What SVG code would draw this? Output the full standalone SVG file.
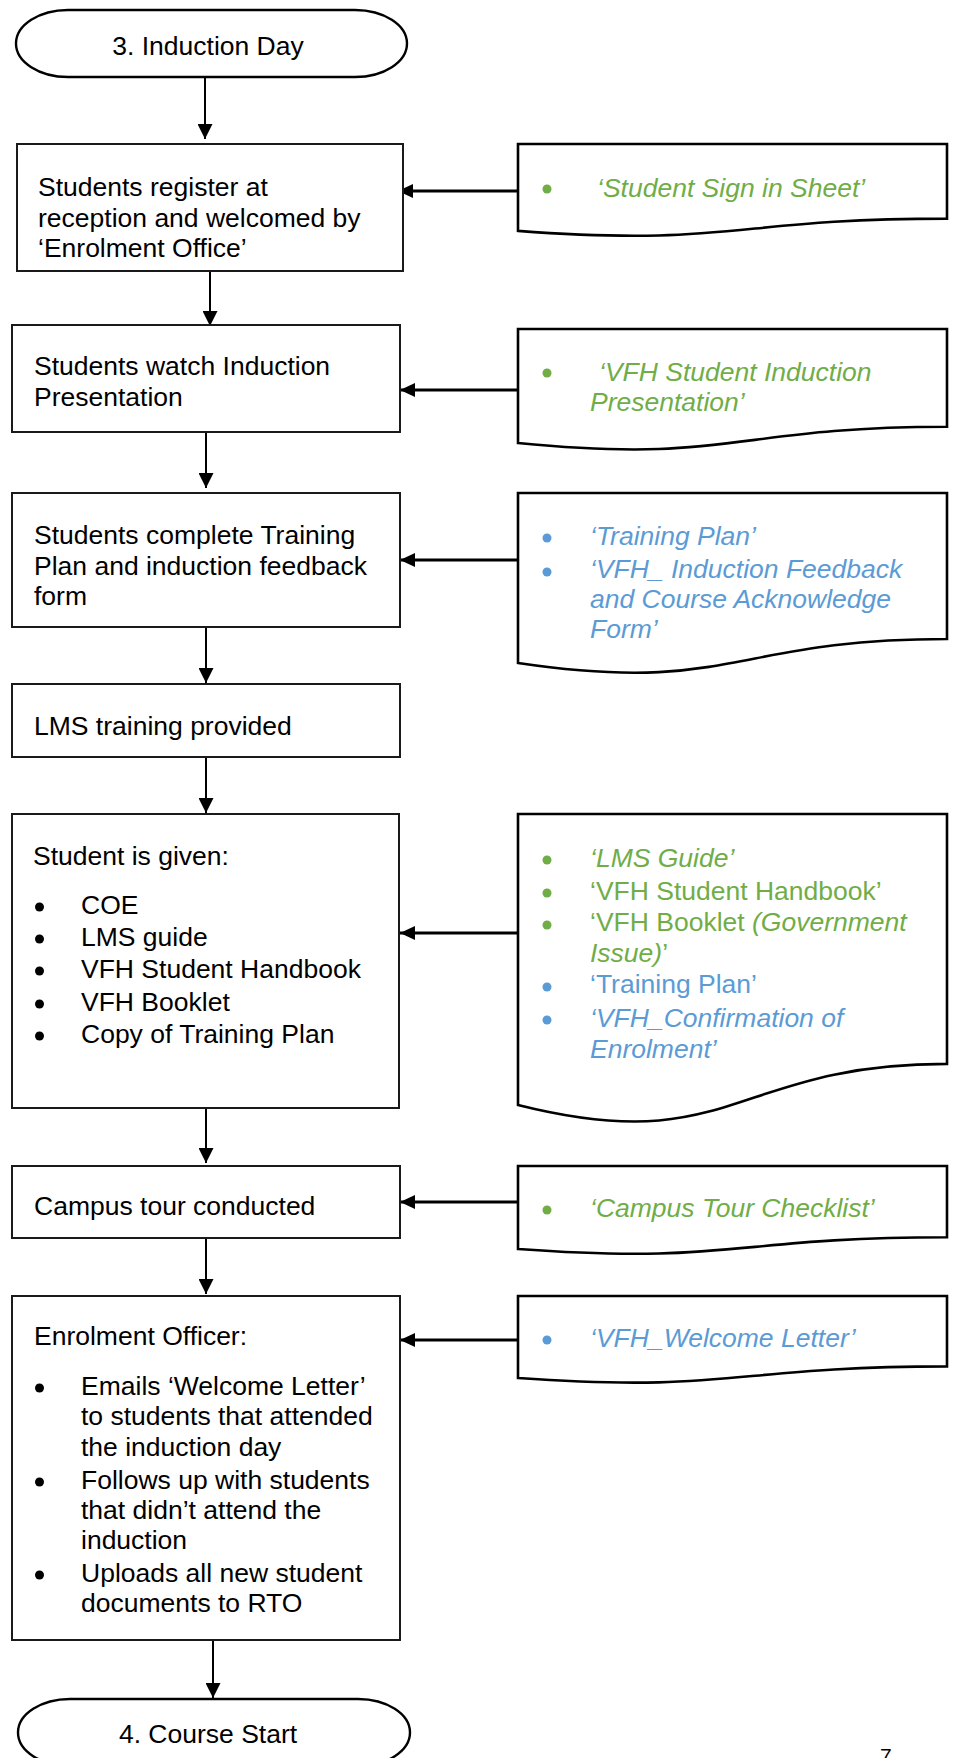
<svg xmlns="http://www.w3.org/2000/svg" width="954" height="1758" viewBox="0 0 954 1758">
<style>
text{font-family:"Liberation Sans",Arial,sans-serif;font-size:26.5px;fill:#000}
.g{fill:#70AD47}
.b{fill:#5B9BD5}
.i{font-style:italic}
.box{fill:#fff;stroke:#1a1a1a;stroke-width:2}
.doc{fill:#fff;stroke:#000;stroke-width:2.6}
.term{fill:#fff;stroke:#000;stroke-width:2.4}
.v{stroke:#000;stroke-width:2;fill:none}
.h{stroke:#000;stroke-width:3;fill:none}
.dot{fill:#000}
.dg{fill:#70AD47}
.db{fill:#5B9BD5}
</style>
<defs>
<marker id="av" viewBox="0 0 16 15" markerWidth="16" markerHeight="15" refX="15" refY="7.5" orient="auto" markerUnits="userSpaceOnUse">
<path d="M0,0 L15,7.5 L0,15 Z" fill="#000"/>
</marker>
<marker id="ah" viewBox="0 0 15 14" markerWidth="15" markerHeight="14" refX="15" refY="7" orient="auto" markerUnits="userSpaceOnUse">
<path d="M0,0 L15,7 L0,14 Z" fill="#000"/>
</marker>
</defs>

<g id="connectors">
<line class="v" x1="205" y1="77" x2="205" y2="139" marker-end="url(#av)"/>
<line class="v" x1="210" y1="271" x2="210" y2="326" marker-end="url(#av)"/>
<line class="v" x1="206" y1="432" x2="206" y2="488" marker-end="url(#av)"/>
<line class="v" x1="206" y1="627" x2="206" y2="683" marker-end="url(#av)"/>
<line class="v" x1="206" y1="757" x2="206" y2="813" marker-end="url(#av)"/>
<line class="v" x1="206" y1="1108" x2="206" y2="1163" marker-end="url(#av)"/>
<line class="v" x1="206" y1="1238" x2="206" y2="1294" marker-end="url(#av)"/>
<line class="v" x1="213" y1="1640" x2="213" y2="1698" marker-end="url(#av)"/>
<line class="h" x1="518" y1="191" x2="398" y2="191" marker-end="url(#ah)"/>
<line class="h" x1="518" y1="390" x2="400" y2="390" marker-end="url(#ah)"/>
<line class="h" x1="518" y1="560" x2="400" y2="560" marker-end="url(#ah)"/>
<line class="h" x1="518" y1="933" x2="400" y2="933" marker-end="url(#ah)"/>
<line class="h" x1="518" y1="1202" x2="400" y2="1202" marker-end="url(#ah)"/>
<line class="h" x1="518" y1="1340" x2="400" y2="1340" marker-end="url(#ah)"/>
</g>

<g id="start">
<rect class="term" x="16" y="10" width="391" height="67" rx="52" ry="33.5"/>
<text x="208" y="55" text-anchor="middle">3. Induction Day</text>
</g>

<g id="register">
<rect class="box" x="17" y="144" width="386" height="127"/>
<text x="38" y="196">Students register at</text>
<text x="38" y="226.5">reception and welcomed by</text>
<text x="38" y="257">‘Enrolment Office’</text>
</g>

<g id="signin-doc">
<path class="doc" d="M518,144 H947 V218.6 C732.5,218.6 732.5,247 518,230.9 Z"/>
<circle class="dg" cx="547" cy="189" r="4.5"/>
<text class="g i" x="597" y="197">‘Student Sign in Sheet’</text>
</g>

<g id="watch">
<rect class="box" x="12" y="325" width="388" height="107"/>
<text x="34" y="375">Students watch Induction</text>
<text x="34" y="406">Presentation</text>
</g>

<g id="presentation-doc">
<path class="doc" d="M518,329 H947 V426.8 C732.5,426.8 732.5,464.1 518,443 Z"/>
<circle class="dg" cx="547" cy="373" r="4.5"/>
<text class="g i" x="599" y="381">‘VFH Student Induction</text>
<text class="g i" x="590" y="410.5">Presentation’</text>
</g>

<g id="complete">
<rect class="box" x="12" y="493" width="388" height="134"/>
<text x="34" y="544">Students complete Training</text>
<text x="34" y="575">Plan and induction feedback</text>
<text x="34" y="605">form</text>
</g>

<g id="feedback-doc">
<path class="doc" d="M518,493 H947 V639 C732.5,639 732.5,694.6 518,663 Z"/>
<circle class="db" cx="547" cy="538" r="4.5"/>
<circle class="db" cx="547" cy="572" r="4.5"/>
<text class="b i" x="590" y="545">‘Training Plan’</text>
<text class="b i" x="590" y="578">‘VFH_ Induction Feedback</text>
<text class="b i" x="590" y="608">and Course Acknowledge</text>
<text class="b i" x="590" y="638">Form’</text>
</g>

<g id="lms">
<rect class="box" x="12" y="684" width="388" height="73"/>
<text x="34" y="735">LMS training provided</text>
</g>

<g id="given">
<rect class="box" x="12" y="814" width="387" height="294"/>
<text x="33" y="865">Student is given:</text>
<circle class="dot" cx="39.5" cy="907" r="4.5"/>
<circle class="dot" cx="39.5" cy="939" r="4.5"/>
<circle class="dot" cx="39.5" cy="971" r="4.5"/>
<circle class="dot" cx="39.5" cy="1004" r="4.5"/>
<circle class="dot" cx="39.5" cy="1036" r="4.5"/>
<text x="81" y="914">COE</text>
<text x="81" y="946">LMS guide</text>
<text x="81" y="978">VFH Student Handbook</text>
<text x="81" y="1011">VFH Booklet</text>
<text x="81" y="1043">Copy of Training Plan</text>
</g>

<g id="given-doc">
<path class="doc" d="M518,814 H947 V1063.9 C732.5,1063.9 732.5,1159 518,1105 Z"/>
<circle class="dg" cx="547" cy="860" r="4.5"/>
<circle class="dg" cx="547" cy="893" r="4.5"/>
<circle class="dg" cx="547" cy="925" r="4.5"/>
<circle class="db" cx="547" cy="987" r="4.5"/>
<circle class="db" cx="547" cy="1020" r="4.5"/>
<text class="g i" x="590" y="867">‘LMS Guide’</text>
<text class="g" x="590" y="900">‘VFH Student Handbook’</text>
<text class="g" x="590" y="931">‘VFH Booklet <tspan class="i">(Government</tspan></text>
<text class="g" x="590" y="962"><tspan class="i">Issue)</tspan>’</text>
<text class="b" x="590" y="993">‘Training Plan’</text>
<text class="b i" x="590" y="1027">‘VFH_Confirmation of</text>
<text class="b i" x="590" y="1058">Enrolment’</text>
</g>

<g id="tour">
<rect class="box" x="12" y="1166" width="388" height="72"/>
<text x="34" y="1215">Campus tour conducted</text>
</g>

<g id="tour-doc">
<path class="doc" d="M518,1166 H947 V1237.3 C732.5,1237.3 732.5,1264.5 518,1249 Z"/>
<circle class="dg" cx="547" cy="1210" r="4.5"/>
<text class="g i" x="590" y="1217">‘Campus Tour Checklist’</text>
</g>

<g id="officer">
<rect class="box" x="12" y="1296" width="388" height="344"/>
<text x="34" y="1345">Enrolment Officer:</text>
<circle class="dot" cx="39.5" cy="1388" r="4.5"/>
<circle class="dot" cx="39.5" cy="1482" r="4.5"/>
<circle class="dot" cx="39.5" cy="1575" r="4.5"/>
<text x="81" y="1395">Emails ‘Welcome Letter’</text>
<text x="81" y="1425">to students that attended</text>
<text x="81" y="1455.5">the induction day</text>
<text x="81" y="1489">Follows up with students</text>
<text x="81" y="1519">that didn’t attend the</text>
<text x="81" y="1549">induction</text>
<text x="81" y="1582">Uploads all new student</text>
<text x="81" y="1612">documents to RTO</text>
</g>

<g id="welcome-doc">
<path class="doc" d="M518,1296 H947 V1366.4 C732.5,1366.4 732.5,1393.2 518,1378 Z"/>
<circle class="db" cx="547" cy="1340" r="4.5"/>
<text class="b i" x="590" y="1347">‘VFH_Welcome Letter’</text>
</g>

<g id="end">
<rect class="term" x="18" y="1699" width="392" height="67" rx="52" ry="33.5"/>
<text x="208" y="1743" text-anchor="middle">4. Course Start</text>
</g>

<text x="880" y="1763" style="font-size:21px">7</text>
</svg>
